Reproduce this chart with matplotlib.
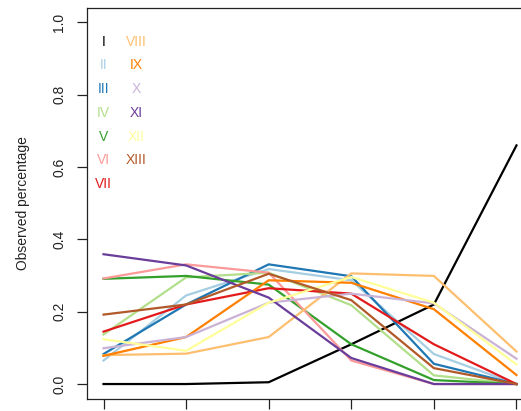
import matplotlib; matplotlib.use('Agg')
import matplotlib.pyplot as plt
import numpy as np

plt.rcParams['font.family'] = ['Liberation Sans', 'DejaVu Sans']

x = [1, 2, 3, 4, 5, 6]
labels = ['I', 'II', 'III', 'IV', 'V', 'VI', 'VII',
          'VIII', 'IX', 'X', 'XI', 'XII', 'XIII']
colors = ['#000000', '#A6CEE3', '#1F78B4', '#B2DF8A', '#33A02C', '#FB9A99',
          '#E31A1C', '#FDBF6F', '#FF7F00', '#CAB2D6', '#6A3D9A', '#FFFF99',
          '#B15928']

s_I    = [0.000, 0.000, 0.005, 0.110, 0.220, 0.660]
s_II   = [0.065, 0.245, 0.318, 0.287, 0.083, 0.000]
s_III  = [0.083, 0.220, 0.331, 0.298, 0.056, 0.000]
s_IV   = [0.137, 0.295, 0.308, 0.218, 0.024, 0.000]
s_V    = [0.291, 0.299, 0.275, 0.110, 0.011, 0.000]
s_VI   = [0.292, 0.331, 0.308, 0.065, 0.000, 0.000]
s_VII  = [0.145, 0.220, 0.265, 0.250, 0.110, 0.000]
s_VIII = [0.080, 0.084, 0.130, 0.306, 0.299, 0.090]
s_IX   = [0.078, 0.130, 0.287, 0.280, 0.207, 0.025]
s_X    = [0.099, 0.130, 0.225, 0.250, 0.223, 0.070]
s_XI   = [0.359, 0.328, 0.239, 0.072, 0.000, 0.000]
s_XII  = [0.124, 0.092, 0.225, 0.296, 0.225, 0.054]
s_XIII = [0.192, 0.220, 0.305, 0.232, 0.044, 0.000]

series = [s_I, s_II, s_III, s_IV, s_V, s_VI, s_VII,
          s_VIII, s_IX, s_X, s_XI, s_XII, s_XIII]

fig = plt.figure(figsize=(5.21, 4.11), dpi=100)
# right edge of the box lies outside the cropped picture
ax = fig.add_axes([87/521, 1 - 398.5/411, 446/521, 390.5/411])

for vals, c in zip(series, colors):
    ax.plot(x, vals, color=c, lw=1.6, solid_joinstyle='miter')

ax.set_xlim(0.8, 6.2)
ax.set_ylim(-0.04, 1.04)
ax.set_xticks(x)
ax.set_xticklabels([''] * len(x))
ax.set_yticks([0.0, 0.2, 0.4, 0.6, 0.8, 1.0])
ax.set_yticklabels(['0.0', '0.2', '0.4', '0.6', '0.8', '1.0'],
                   rotation=90, va='center', fontsize=10, color='#222222')
ax.tick_params(axis='both', length=7, width=0.9, color='#222222')
ax.tick_params(axis='y', pad=8)
for sp in ax.spines.values():
    sp.set_linewidth(0.9)
    sp.set_color('#222222')
ax.set_ylabel('Observed percentage', fontsize=10, labelpad=16, color='#222222')

# legend as coloured labels in two columns
for i, (lab, c) in enumerate(zip(labels, colors)):
    col, row = divmod(i, 7)
    ax.text(1.0 + col * 0.40, 0.947 - row * 0.0657, lab, color=c,
            fontsize=10, ha='center', va='center')

plt.savefig('out.png', dpi=100)
plt.close()
